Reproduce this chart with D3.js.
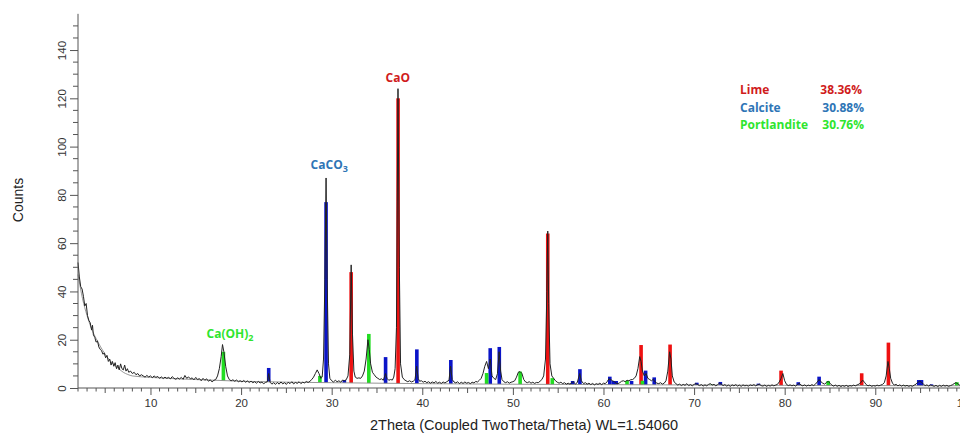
<!DOCTYPE html>
<html>
<head>
<meta charset="utf-8">
<script src="https://cdn.jsdelivr.net/npm/d3@7"></script>
<style>
  body { margin: 0; background: #fff; }
  svg { display: block; }
  .tick text { font-family: "Liberation Sans", Arial, sans-serif; font-size: 11.5px; fill: #333; }
  .lbl { font-family: "Open Sans", "Noto Sans", sans-serif; font-weight: bold; font-size: 12px; }
</style>
</head>
<body>
<div class="chart"></div>
<script>
// measured scan, [2theta, counts]
var scan = [
  [2.0,52],[2.15,46],[2.3,42],[2.45,41],[2.6,38],[2.75,34],[2.9,35],[3.05,30],[3.2,28],[3.35,27],
  [3.5,24],[3.6,26],[3.7,22],[3.85,21],[4.0,19],[4.15,19.5],[4.3,17],[4.45,16],[4.6,15.5],[4.75,14],
  [4.9,14.5],[5.05,12.5],[5.2,13.5],[5.35,11],[5.5,12],[5.65,9.5],[5.8,11],[5.95,9],[6.1,10.5],[6.25,8],
  [6.4,9.5],[6.55,7.5],[6.7,10],[6.85,8],[7.0,7.5],[7.15,9.5],[7.3,7],[7.45,8],[7.6,6.5],[7.8,7],
  [8.0,6],[8.2,6.5],[8.4,5.5],[8.6,6],[8.8,5],[9.0,5.5],[9.2,5],[9.4,4.5],[9.6,5.2],[9.8,4.6],
  [10.0,5],[10.2,4.3],[10.4,5],[10.6,4.4],[10.8,4.8],[11.0,4],[11.2,4.6],[11.4,3.9],[11.6,4.5],[11.8,4],
  [12.0,4.4],[12.2,3.8],[12.4,4.7],[12.6,4],[12.8,3.6],[13.0,4.2],[13.2,3.7],[13.4,4.4],[13.6,3.6],[13.8,5.2],
  [14.0,4],[14.2,4.6],[14.4,3.8],[14.6,4.2],[14.8,3.4],[15.0,4.4],[15.2,3.5],[15.4,3.9],[15.6,3],[15.8,4],
  [16.0,3.2],[16.2,3.8],[16.4,2.8],[16.6,3.4],[16.8,2.5],[17.0,3.2],[17.2,3.5],[17.4,5],[17.6,8],[17.8,13],
  [17.95,18],[18.1,15],[18.3,9],[18.5,5],[18.7,3.5],[18.9,3],[19.1,3.4],[19.3,2.8],[19.5,3.3],[19.7,2.6],
  [19.9,3],[20.1,2.5],[20.3,3.1],[20.5,2.4],[20.7,2.9],[20.9,2.3],[21.1,2.8],[21.3,2.2],[21.5,2.6],[21.7,2],
  [21.9,2.7],[22.1,2.1],[22.3,2.4],[22.5,1.8],[22.7,2.3],[22.9,2.6],[23.05,6],[23.2,2.4],[23.4,1.6],[23.6,2.2],
  [23.8,1.5],[24.0,2.3],[24.2,1.6],[24.4,2.5],[24.6,1.7],[24.8,2.2],[25.0,1.5],[25.2,2.4],[25.4,1.8],[25.6,2.6],
  [25.8,1.7],[26.0,2.3],[26.2,1.9],[26.4,2.6],[26.6,1.8],[26.8,2.4],[27.0,2.1],[27.2,2.7],[27.4,2.3],[27.6,2.8],
  [27.8,3.5],[28.0,4.5],[28.2,6],[28.4,7.5],[28.6,6],[28.8,4],[28.95,4.5],[29.1,12],[29.25,45],[29.38,87],
  [29.5,45],[29.65,10],[29.8,4],[30.0,3],[30.2,2.5],[30.4,3.2],[30.6,2.6],[30.8,3],[31.0,2.4],[31.2,3.3],
  [31.4,3],[31.6,3.4],[31.8,5],[32.0,14],[32.15,51],[32.3,22],[32.45,7],[32.6,4.5],[32.8,4],[33.0,4.2],
  [33.2,4],[33.4,5],[33.6,7],[33.8,12],[34.0,20],[34.15,16],[34.3,10],[34.5,6.5],[34.7,5.5],[34.9,4.5],
  [35.1,4],[35.3,3.5],[35.5,3.8],[35.7,3.2],[35.95,6],[36.1,4],[36.3,3.2],[36.5,3.5],[36.7,3.3],[36.85,4.5],
  [37.0,8],[37.15,25],[37.32,124],[37.47,50],[37.6,10],[37.8,4.5],[38.0,3.5],[38.2,3],[38.4,2.6],[38.6,3],
  [38.8,2.5],[39.0,2.8],[39.2,3.5],[39.38,9],[39.55,4],[39.7,2.8],[39.9,3],[40.1,2.4],[40.3,2.8],[40.5,2.2],
  [40.7,2.6],[40.9,2],[41.1,2.5],[41.3,2.1],[41.5,2.7],[41.7,2],[41.9,2.4],[42.1,1.9],[42.3,2.5],[42.5,2.1],
  [42.7,2.6],[42.95,3.2],[43.12,9],[43.3,3.5],[43.5,2.5],[43.7,2.1],[43.9,2.6],[44.1,1.8],[44.3,2.4],[44.5,1.9],
  [44.7,2.5],[44.9,2],[45.1,2.3],[45.3,1.8],[45.5,2.4],[45.7,2.1],[45.9,2.7],[46.1,2.5],[46.3,3.2],[46.5,4],
  [46.7,6],[46.9,9],[47.1,11],[47.3,8],[47.5,12],[47.7,5],[47.9,4],[48.1,3.5],[48.3,6],[48.48,15],
  [48.65,7],[48.8,3.5],[49.0,2.6],[49.2,2.2],[49.4,2.6],[49.6,2],[49.8,2.4],[50.0,2.6],[50.2,3],[50.4,4.5],
  [50.6,6.5],[50.8,6.8],[51.0,6],[51.2,3.5],[51.4,2.5],[51.6,2.2],[51.8,2.6],[52.0,2],[52.2,2.4],[52.4,1.9],
  [52.6,2.3],[52.8,2.2],[53.0,2.8],[53.2,3.5],[53.4,5],[53.6,12],[53.75,40],[53.85,65],[53.95,35],[54.1,10],
  [54.3,5],[54.5,4],[54.7,3],[54.9,2.4],[55.1,2],[55.3,2.4],[55.5,1.8],[55.7,2.2],[55.9,1.6],[56.1,2],
  [56.3,1.6],[56.5,2.2],[56.65,2.6],[56.9,1.7],[57.1,2.2],[57.38,6],[57.55,3],[57.8,1.8],[58.0,2.2],[58.2,1.6],
  [58.4,2],[58.6,1.4],[58.8,1.9],[59.0,1.3],[59.2,1.8],[59.4,1.5],[59.6,2],[59.8,1.4],[60.0,2],[60.2,1.8],
  [60.4,2.6],[60.6,3.8],[60.8,3.5],[61.0,3],[61.2,2.6],[61.4,2],[61.6,1.8],[61.8,2.2],[62.0,2.8],[62.2,3],
  [62.4,2.6],[62.6,3.2],[62.8,3],[63.0,3.4],[63.2,3.5],[63.4,4],[63.6,5],[63.8,8],[64.0,13],[64.15,11],
  [64.3,7],[64.5,5],[64.7,6],[64.9,4],[65.1,3.5],[65.3,3],[65.5,3.6],[65.7,2.5],[65.9,2],[66.1,1.8],
  [66.3,2.2],[66.5,1.6],[66.7,2],[66.9,3],[67.1,7],[67.3,15],[67.45,12],[67.6,5],[67.8,2.5],[68.0,1.8],
  [68.2,1.2],[68.4,1.6],[68.6,1],[68.8,1.5],[69.0,1.1],[69.2,1.8],[69.4,1],[69.6,1.4],[69.8,0.9],[70.0,1.5],
  [70.2,1.8],[70.4,1.4],[70.6,1],[70.8,1.4],[71.0,0.8],[71.2,1.3],[71.4,0.9],[71.6,1.5],[71.8,1.8],[72.0,1.2],
  [72.2,1.5],[72.4,0.9],[72.6,1.4],[72.8,2],[73.0,1.6],[73.2,1],[73.4,1.4],[73.6,0.8],[73.8,1.2],[74.0,0.7],
  [74.2,1.3],[74.4,0.9],[74.6,1.4],[74.8,0.8],[75.0,1.2],[75.2,0.7],[75.4,1.3],[75.6,0.9],[75.8,1.1],[76.0,0.8],
  [76.2,1.3],[76.4,1],[76.6,1.4],[76.8,0.9],[77.0,1.3],[77.2,1.6],[77.4,1],[77.6,0.8],[77.8,1.2],[78.0,0.7],
  [78.2,1.1],[78.4,0.8],[78.6,1.3],[78.8,0.9],[79.0,1.2],[79.2,1.5],[79.4,2.5],[79.6,4],[79.8,6],[80.0,3],
  [80.2,1.5],[80.4,1],[80.6,1.3],[80.8,0.9],[81.0,1.2],[81.2,0.8],[81.4,1.4],[81.6,2],[81.8,1.2],[82.0,0.9],
  [82.2,1.3],[82.4,0.8],[82.6,1.2],[82.8,0.9],[83.0,1.4],[83.2,1],[83.4,1.6],[83.6,2.5],[83.8,3.5],[84.0,2.6],
  [84.2,2],[84.4,1.6],[84.6,2.2],[84.8,2.8],[85.0,2],[85.2,1.2],[85.4,0.8],[85.6,1.2],[85.8,0.7],[86.0,1.1],
  [86.2,0.6],[86.4,1],[86.6,0.7],[86.8,1.1],[87.0,0.6],[87.2,1],[87.4,0.8],[87.6,1.2],[87.8,0.9],[88.0,1.3],
  [88.2,1.6],[88.4,2.2],[88.6,3.3],[88.8,2.4],[89.0,1.4],[89.2,0.9],[89.4,1.2],[89.6,0.7],[89.8,1],[90.0,0.8],
  [90.2,1.2],[90.4,0.9],[90.6,1.2],[90.8,1.5],[91.0,2.2],[91.2,5],[91.4,11],[91.55,8],[91.7,4],[91.9,2],
  [92.1,1.2],[92.3,1.5],[92.5,0.9],[92.7,1.3],[92.9,0.8],[93.1,1.2],[93.3,0.8],[93.5,1.1],[93.7,0.7],[93.9,1],
  [94.1,0.7],[94.3,1.2],[94.5,1.6],[94.7,2.4],[94.9,2.8],[95.1,2.4],[95.3,1.6],[95.5,1],[95.7,1.3],[95.9,0.8],
  [96.1,1.3],[96.3,1],[96.5,0.7],[96.7,1.1],[96.9,0.6],[97.1,1.1],[97.3,0.7],[97.5,1.2],[97.7,0.8],[97.9,1.1],
  [98.1,0.7],[98.3,1],[98.5,1.3],[98.7,1.8],[98.9,2.2],[99.1,1.8],[99.3,1.2],[99.5,1],[99.8,1.2],[100.2,0.9]
];

// fitted background
var background = [
  [2,47],[2.5,37],[3,30],[3.5,24.5],[4,20.5],[4.5,17],[5,14],[5.5,11.5],[6,9.5],[6.5,8],
  [7,6.5],[7.5,5.6],[8,5],[10,4.4],[15,3.5],[20,2.8],[30,2.2],[40,1.8],[60,1.4],[80,1.1],[100.2,0.9]
];

// phase sticks [2theta, counts]
var limePeaks = [[32.15,48],[37.33,120],[53.85,64],[64.15,17.8],[67.35,18],[79.6,7.2],[88.5,6.1],[91.45,18.8]];
var calcitePeaks = [[23.05,8.3],[29.38,77],[31.4,3.3],[35.95,12.8],[39.4,16],[43.15,11.6],[47.5,16.5],[48.5,17],
  [56.6,2.9],[57.4,7.8],[58.0,1.6],[60.7,4.7],[61.1,2.9],[61.4,2.9],[63.1,2.9],[64.65,7.2],[65.6,4.4],
  [69.2,1.3],[70.3,2.2],[72.9,2.5],[76.3,1.2],[77.1,1.8],[81.5,2.4],[83.8,4.7],[94.8,3.3],[95.1,3.3],[96.2,1.5]];
var portlanditePeaks = [[18.05,15],[28.7,5],[34.1,22.4],[47.1,6.2],[50.8,6.8],[54.35,4.1],[62.6,3],[64.3,3],
  [71.9,1.4],[84.8,2.9],[93.2,1.2],[99,2.4]];

var phaseNames = ["Lime", "Calcite", "Portlandite"];
var phasePercents = ["38.36%", "30.88%", "30.76%"];
var textColors = ["#d01c1c", "#2e75b6", "#2ee52e"];
var stickColors = ["#ee1111", "#0a14c8", "#22dd22"];

var svgWidth = 960;
var svgHeight = 434;
var margin = { top: 14, left: 78, bottom: 46 };

var svg = d3.select(".chart")
  .append("svg")
  .attr("width", svgWidth)
  .attr("height", svgHeight);

var x = d3.scaleLinear().domain([2, 100]).range([margin.left, margin.left + 98 * 9.06]);
var y = d3.scaleLinear().domain([0, 155]).range([388, 388 - 155 * 2.414]);

// background curve lookup for stick bases
var bgAt = function(t) {
  var i = d3.bisector(d => d[0]).left(background, t);
  if (i <= 0) return background[0][1];
  if (i >= background.length) return background[background.length - 1][1];
  var a = background[i - 1], b = background[i];
  return a[1] + (b[1] - a[1]) * (t - a[0]) / (b[0] - a[0]);
};

// sticks
var phases = [limePeaks, calcitePeaks, portlanditePeaks];
phases.forEach(function(peaks, k) {
  svg.append("g").selectAll("rect")
    .data(peaks)
    .enter()
    .append("rect")
    .attr("x", d => x(d[0]) - 1.8)
    .attr("width", 3.6)
    .attr("y", d => y(d[1]))
    .attr("height", d => y(bgAt(d[0])) - y(d[1]))
    .attr("fill", stickColors[k]);
});

// background line
var line = d3.line().x(d => x(d[0])).y(d => y(d[1]));
svg.append("path")
  .datum(background)
  .attr("d", line.curve(d3.curveMonotoneX))
  .attr("fill", "none")
  .attr("stroke", "#8a8a8a")
  .attr("stroke-width", 0.9);

// scan line
svg.append("path")
  .datum(scan)
  .attr("d", d3.line().x(d => x(d[0])).y(d => y(d[1])))
  .attr("fill", "none")
  .attr("stroke", "#222")
  .attr("stroke-width", 1)
  .attr("stroke-linejoin", "round");

// axes
var xAxis = d3.axisBottom(x).tickValues(d3.range(10, 101, 10)).tickSize(7).tickPadding(4);
var xg = svg.append("g").attr("transform", "translate(0,388)").call(xAxis);
xg.select(".domain").attr("d", "M" + margin.left + ",0H" + svgWidth).attr("stroke", "#555");
xg.selectAll(".tick line").attr("stroke", "#555");
svg.append("g").selectAll("line")
  .data(d3.range(2, 101).filter(v => v % 10 !== 0))
  .enter().append("line")
  .attr("x1", d => x(d)).attr("x2", d => x(d))
  .attr("y1", 388).attr("y2", d => d % 5 === 0 ? 393 : 391.5)
  .attr("stroke", "#555");

var yAxis = d3.axisLeft(y).tickValues(d3.range(0, 141, 20)).tickSize(8).tickPadding(0);
var yg = svg.append("g").attr("transform", "translate(" + margin.left + ",0)").call(yAxis);
yg.select(".domain").attr("d", "M0,388V" + y(155)).attr("stroke", "#555");
yg.selectAll(".tick line").attr("stroke", "#555");
yg.selectAll(".tick text")
  .attr("x", 0).attr("dy", 0)
  .attr("text-anchor", "middle")
  .attr("transform", "translate(-12,0) rotate(-90)");
svg.append("g").selectAll("line")
  .data(d3.range(5, 155, 5).filter(v => v % 20 !== 0))
  .enter().append("line")
  .attr("x1", margin.left - 5).attr("x2", margin.left)
  .attr("y1", d => y(d)).attr("y2", d => y(d))
  .attr("stroke", "#555");

// axis titles
svg.append("text")
  .attr("transform", "translate(23,200) rotate(-90)")
  .attr("text-anchor", "middle")
  .style("font-family", "Liberation Sans, Arial, sans-serif")
  .style("font-size", "14px")
  .attr("fill", "#222")
  .text("Counts");

svg.append("text")
  .attr("x", 524).attr("y", 430)
  .attr("text-anchor", "middle")
  .style("font-family", "Liberation Sans, Arial, sans-serif")
  .style("font-size", "14.5px")
  .attr("fill", "#222")
  .text("2Theta (Coupled TwoTheta/Theta) WL=1.54060");

// peak labels
svg.append("text").attr("class", "lbl")
  .attr("x", x(37.3)).attr("y", y(124) - 7)
  .attr("text-anchor", "middle").attr("fill", textColors[0])
  .text("CaO");

var t1 = svg.append("text").attr("class", "lbl")
  .attr("x", x(29.4) + 3).attr("y", y(87) - 9)
  .attr("text-anchor", "middle").attr("fill", textColors[1]);
t1.append("tspan").text("CaCO");
t1.append("tspan").attr("dy", 3).style("font-size", "9px").text("3");

var t2 = svg.append("text").attr("class", "lbl")
  .attr("x", x(18.0) + 7).attr("y", y(18) - 7)
  .attr("text-anchor", "middle").attr("fill", textColors[2]);
t2.append("tspan").text("Ca(OH)");
t2.append("tspan").attr("dy", 3).style("font-size", "9px").text("2");

// legend
var legend = svg.append("g").attr("transform", "translate(740,94)");
phaseNames.forEach(function(name, i) {
  legend.append("text").attr("class", "lbl")
    .attr("x", 0).attr("y", i * 17.5)
    .attr("fill", textColors[i])
    .text(name);
  legend.append("text").attr("class", "lbl")
    .attr("x", i === 0 ? 122 : 124).attr("y", i * 17.5)
    .attr("text-anchor", "end")
    .attr("fill", textColors[i])
    .text(phasePercents[i]);
});
</script>
</body>
</html>
